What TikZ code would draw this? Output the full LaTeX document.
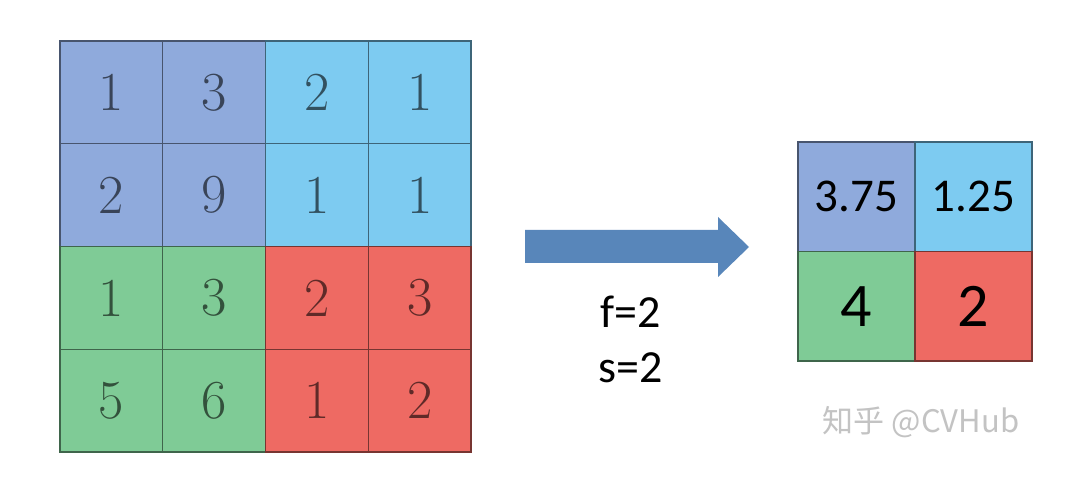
\documentclass[tikz,border=0pt]{standalone}
\usepackage{fontspec}
\newfontfamily\calibri{Carlito}
\newfontfamily\cjk{Noto Sans CJK SC}
\usetikzlibrary{positioning}
\definecolor{pcolor}{RGB}{143,170,220}
\definecolor{ccolor}{RGB}{125,203,241}
\definecolor{gcolor}{RGB}{127,203,150}
\definecolor{rcolor}{RGB}{238,106,99}
\definecolor{acolor}{RGB}{88,134,186}
\definecolor{wcolor}{RGB}{195,195,195}
\tikzset{
  incell/.style={draw=#1!50!black, fill=#1, line width=1.4pt, inner sep=0pt, outer sep=0pt,
    minimum width=102.75pt, minimum height=102.75pt, text=#1!40!black,
    font=\fontsize{55}{55}\selectfont},
  outcell/.style={draw=#1!50!black, fill=#1, line width=1.4pt, inner sep=0pt, outer sep=0pt,
    minimum width=117pt, minimum height=109.5pt, text=black},
  label/.style={font=\calibri\fontsize{46}{46}\selectfont, anchor=base}
}
\begin{document}
\begin{tikzpicture}[x=1pt,y=-1pt]
  \useasboundingbox[fill=white] (0,0) rectangle (1080,489);
  % input 4x4
  \foreach \i/\j/\v/\c in {0/0/1/pcolor,1/0/3/pcolor,2/0/2/ccolor,3/0/1/ccolor,
                           0/1/2/pcolor,1/1/9/pcolor,2/1/1/ccolor,3/1/1/ccolor,
                           0/2/1/gcolor,1/2/3/gcolor,2/2/2/rcolor,3/2/3/rcolor,
                           0/3/5/gcolor,1/3/6/gcolor,2/3/1/rcolor,3/3/2/rcolor} {
    \node[incell=\c] (in\i\j) at (60+102.75*\i+51.375, 41+102.75*\j+51.375) {\raisebox{-3pt}{\v}};
  }
  % pooled 2x2
  \foreach \i/\j/\v/\c/\s in {0/0/3.75/pcolor/47,1/0/1.25/ccolor/47,
                              0/1/4/gcolor/62,1/1/2/rcolor/62} {
    \node[outcell=\c, font=\calibri\fontsize{\s}{\s}\selectfont] (out\i\j)
      at (798+117*\i+58.5, 142+109.5*\j+54.75) {\v};
  }
  % block arrow
  \fill[acolor] (525,230) -- (718,230) -- (718,217) -- (749,247)
    -- (718,277) -- (718,263) -- (525,263) -- cycle;
  \node[label] (f) at (631,328) {f=2};
  \node[label, below=54pt of f.base, anchor=base] (s) {s=2};
  \node[font=\cjk\fontsize{31}{31}\selectfont, text=wcolor] (wm) at (921,422) {知乎 @CVHub};
\end{tikzpicture}
\end{document}
